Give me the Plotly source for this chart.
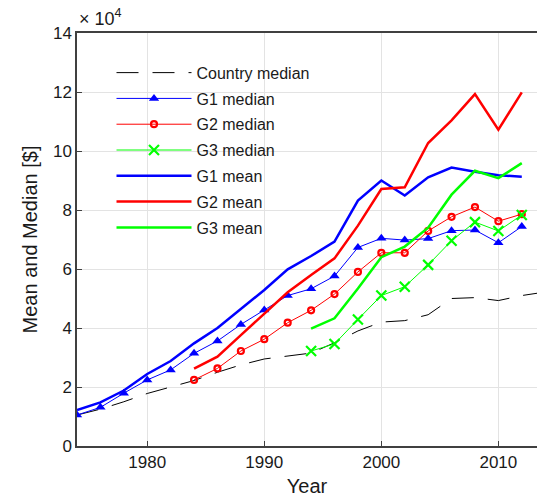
import plotly.graph_objects as go

years2 = list(range(1974, 2013, 2))
country_years = list(range(1974, 2015, 2))
country_median = [10500, 12500, 15000, 17800, 20000, 22200, 25000, 27500, 29500, 30500,
                  31500, 35000, 39000, 42000, 42500, 44500, 50000, 50300, 49300, 51000, 52200]

g1_median = [10500, 13100, 17900, 22400, 25800, 31400, 35600, 41200, 46100, 51000,
             53300, 57600, 67300, 70400, 69800, 70300, 73000, 73200, 68900, 74400]
g1_mean = [12200, 14800, 18800, 24400, 28800, 34800, 40000, 46400, 52900, 59900,
           64400, 69300, 83200, 90000, 84900, 91100, 94400, 93000, 91800, 91300]

g2_years = list(range(1984, 2013, 2))
g2_median = [22400, 26300, 32200, 36200, 41800, 46000, 51500, 59000, 65500, 65500,
             72900, 77700, 81000, 76200, 78600]
g2_mean = [26200, 30300, 37600, 45000, 52100, 58000, 63600, 74700, 87100, 87700,
           102700, 110400, 119300, 107200, 119900]

g3_years = list(range(1994, 2013, 2))
g3_median = [32200, 34600, 42900, 51000, 54000, 61400, 69600, 75900, 72900, 78300]
g3_mean = [39800, 43300, 53400, 64000, 67600, 74000, 85200, 93300, 90800, 95900]

y_ticks = [0, 20000, 40000, 60000, 80000, 100000, 120000, 140000]
y_ticklabels = ["0", "2", "4", "6", "8", "10", "12", "14"]
x_ticks = [1980, 1990, 2000, 2010]

BLUE, RED, GREEN = "#0000ff", "#ff0000", "#00ff00"

fig = go.Figure()
fig.add_trace(go.Scatter(x=country_years, y=country_median, name="Country median", mode="lines",
                         legendgroup="a",
                         line=dict(color="black", width=1, dash="22px,14px")))
fig.add_trace(go.Scatter(x=years2, y=g1_median, name="G1 median", mode="lines+markers",
                         legendgroup="b",
                         line=dict(color=BLUE, width=1),
                         marker=dict(symbol="triangle-up", size=9, color=BLUE)))
fig.add_trace(go.Scatter(x=g2_years, y=g2_median, name="G2 median", mode="lines+markers",
                         legendgroup="c",
                         line=dict(color=RED, width=1),
                         marker=dict(symbol="circle-open", size=6, color=RED, line=dict(width=2.2, color=RED))))
fig.add_trace(go.Scatter(x=g3_years, y=g3_median, name="G3 median", mode="lines+markers",
                         legendgroup="d",
                         line=dict(color=GREEN, width=1),
                         marker=dict(symbol="x-thin-open", size=10, color=GREEN, line=dict(width=2.2, color=GREEN))))
fig.add_trace(go.Scatter(x=years2, y=g1_mean, name="G1 mean", mode="lines",
                         legendgroup="e",
                         line=dict(color=BLUE, width=2.5)))
fig.add_trace(go.Scatter(x=g2_years, y=g2_mean, name="G2 mean", mode="lines",
                         legendgroup="f",
                         line=dict(color=RED, width=2.5)))
fig.add_trace(go.Scatter(x=g3_years, y=g3_mean, name="G3 mean", mode="lines",
                         legendgroup="g",
                         line=dict(color=GREEN, width=2.5)))

font_family = "Liberation Sans, Arial, sans-serif"
fig.update_layout(
    width=537, height=504,
    margin=dict(l=77, r=0, t=33, b=58),
    paper_bgcolor="white", plot_bgcolor="white",
    font=dict(family=font_family, size=16, color="#1a1a1a"),
    showlegend=True,
    legend=dict(x=0.075, y=0.945, xanchor="left", yanchor="top", bgcolor="rgba(255,255,255,0)",
                font=dict(size=16, color="#1a1a1a"), itemwidth=75, tracegroupgap=2,
                traceorder="grouped"),
    xaxis=dict(range=[1974, 2013.3], tickvals=x_ticks, showgrid=True, gridcolor="#e3e3e3",
               showline=True, linecolor="#404040", linewidth=1.5, mirror=True,
               ticks="inside", ticklen=5, tickcolor="#404040", zeroline=False,
               title=dict(text="Year", font=dict(size=20), standoff=8),
               tickfont=dict(size=17)),
    yaxis=dict(range=[0, 140000], tickvals=y_ticks, ticktext=y_ticklabels, showgrid=True,
               gridcolor="#e3e3e3", showline=True, linecolor="#404040", linewidth=1.5,
               ticks="inside", ticklen=5, tickcolor="#404040", zeroline=False,
               title=dict(text="Mean and Median [$]", font=dict(size=20), standoff=10),
               tickfont=dict(size=17)),
    annotations=[dict(text="× 10<sup>4</sup>", xref="paper", yref="paper", x=0, y=1,
                      xanchor="left", yanchor="bottom", yshift=2, showarrow=False,
                      font=dict(size=18, color="#1a1a1a"))],
)
fig.write_html("out.html")
